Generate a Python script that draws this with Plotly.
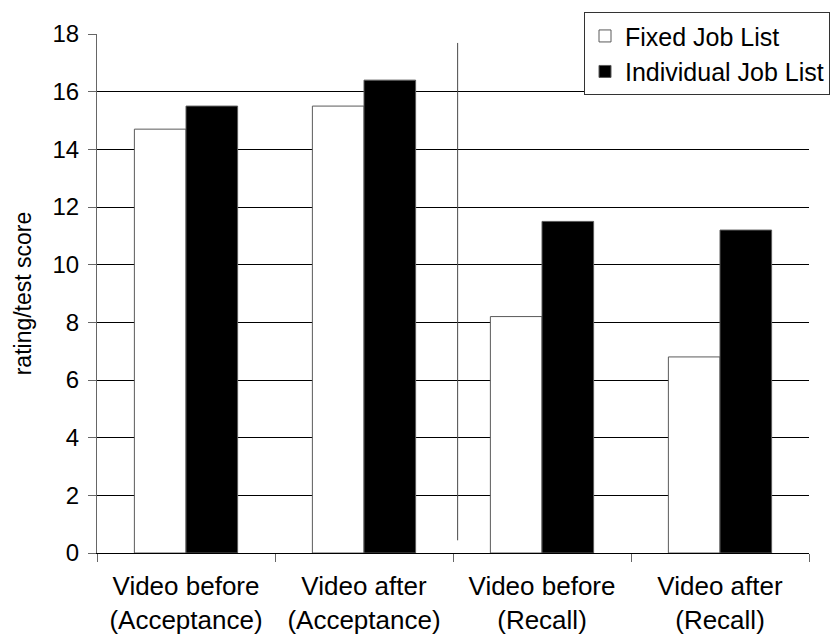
import plotly.graph_objects as go

# Category labels (two-line) and scores per job-list condition
categories = [
    "Video before<br>(Acceptance)",
    "Video after<br>(Acceptance)",
    "Video before<br>(Recall)",
    "Video after<br>(Recall)",
]
fixed_job_list = [14.7, 15.5, 8.2, 6.8]
individual_job_list = [15.5, 16.4, 11.5, 11.2]

y_ticks = [0, 2, 4, 6, 8, 10, 12, 14, 16, 18]

FONT = "Arial, Liberation Sans, sans-serif"
EDGE = "#5a5a5a"

fig = go.Figure()
fig.add_trace(go.Bar(
    name="Fixed Job List",
    x=categories,
    y=fixed_job_list,
    marker=dict(color="white", line=dict(color=EDGE, width=1)),
))
fig.add_trace(go.Bar(
    name="Individual Job List",
    x=categories,
    y=individual_job_list,
    marker=dict(color="black", line=dict(color=EDGE, width=1)),
))

# Divider between the acceptance and recall measurements
fig.add_shape(
    type="line", xref="x", yref="y",
    x0=1.526, x1=1.526, y0=0.44, y1=17.69,
    line=dict(color="#4a4a4a", width=1),
)

fig.update_layout(
    width=831,
    height=637,
    margin=dict(l=97, r=22, t=34, b=84, autoexpand=False),
    paper_bgcolor="white",
    plot_bgcolor="white",
    barmode="group",
    bargap=0.42,
    bargroupgap=0,
    font=dict(family=FONT, color="black"),
    legend=dict(
        x=0.684, y=1.042, xanchor="left", yanchor="top",
        bgcolor="white", bordercolor="#333333", borderwidth=1,
        font=dict(family=FONT, size=25, color="black"),
        traceorder="normal",
    ),
    xaxis=dict(
        type="category",
        tickson="boundaries",
        ticks="outside", ticklen=8, tickcolor="#666666",
        showline=True, linecolor="black", linewidth=1,
        showgrid=False,
        tickfont=dict(family=FONT, size=26, color="black"),
        ticklabelstandoff=10,
        range=[-0.5, 3.5],
    ),
    yaxis=dict(
        range=[0, 18],
        tickvals=y_ticks,
        ticks="outside", ticklen=8, tickcolor="#666666",
        showline=True, linecolor="#666666", linewidth=1,
        showgrid=True, gridcolor="black", gridwidth=1,
        zeroline=False,
        tickfont=dict(family=FONT, size=24, color="black"),
        ticklabelstandoff=4,
        title=dict(text="rating/test score", font=dict(family=FONT, size=23, color="black"), standoff=14),
    ),
)

fig.write_html("out.html")
